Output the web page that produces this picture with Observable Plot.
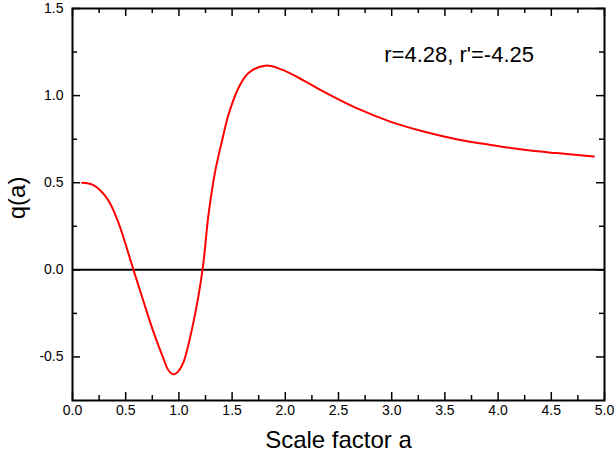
<!DOCTYPE html>
<html>
<head>
<meta charset="utf-8">
<script src="https://cdn.jsdelivr.net/npm/d3@7"></script>
<script src="https://cdn.jsdelivr.net/npm/@observablehq/plot@0.6"></script>
<style>
  body { margin: 0; background: #ffffff; }
  #chart svg { display: block; }
</style>
</head>
<body>
<div id="chart"></div>
<script>
// ---- data ----
const aValues = [0.09, 0.15, 0.20, 0.25, 0.30, 0.35, 0.40, 0.45, 0.50, 0.573, 0.667, 0.76, 0.855, 0.90, 0.95, 0.998, 1.043, 1.137, 1.222, 1.278, 1.341, 1.404, 1.466, 1.56, 1.654, 1.811, 1.968, 2.187, 2.36, 2.67, 2.986, 3.30, 3.61, 3.93, 4.24, 4.55, 4.90];
const qValues = [0.500, 0.496, 0.485, 0.463, 0.430, 0.385, 0.320, 0.240, 0.145, 0.0, -0.18, -0.355, -0.51, -0.575, -0.60, -0.58, -0.53, -0.30, 0.0, 0.316, 0.565, 0.737, 0.89, 1.044, 1.13, 1.172, 1.149, 1.082, 1.023, 0.928, 0.851, 0.794, 0.75, 0.717, 0.689, 0.67, 0.651];

const xTicks = [0, 0.5, 1.0, 1.5, 2.0, 2.5, 3.0, 3.5, 4.0, 4.5, 5.0];
const xTickLabels = ["0.0", "0.5", "1.0", "1.5", "2.0", "2.5", "3.0", "3.5", "4.0", "4.5", "5.0"];
const xMinorTicks = [0.25, 0.75, 1.25, 1.75, 2.25, 2.75, 3.25, 3.75, 4.25, 4.75];
const yTicks = [-0.5, 0.0, 0.5, 1.0, 1.5];
const yTickLabels = ["-0.5", "0.0", "0.5", "1.0", "1.5"];
const yMinorTicks = [-0.25, 0.25, 0.75, 1.25];

const xTitle = "Scale factor a";
const yTitle = "q(a)";
const yTitleQ = 0.29;          // vertical centre of the y title, in q units
const annotation = "r=4.28, r'=-4.25";
const annotationA = 2.93;
const annotationQ = 1.236;

const data = aValues.map((a, i) => ({a, q: qValues[i]}));

// ---- layout ----
const W = 615, H = 465;
const mL = 72, mR = 11, mT = 8, mB = 65;
const pw = W - mL - mR, ph = H - mT - mB;
const majorLen = 8, minorLen = 5;

const chart = Plot.plot({
  width: W,
  height: H,
  marginLeft: mL,
  marginRight: mR,
  marginTop: mT,
  marginBottom: mB,
  style: {fontFamily: "'Liberation Sans', Arial, Helvetica, sans-serif", fontSize: "14px", background: "#ffffff", color: "#000000"},
  x: {domain: [0, 5]},
  y: {domain: [-0.75, 1.5]},
  marks: [
    Plot.axisX({ticks: xTicks, tickSize: 0, tickPadding: 5, fontSize: 14, label: null,
      tickFormat: d => xTickLabels[xTicks.indexOf(d)]}),
    Plot.axisY({ticks: yTicks, tickSize: 0, tickPadding: 9, fontSize: 14, label: null,
      tickFormat: d => yTickLabels[yTicks.indexOf(d)]}),
    // inward ticks: bottom and top
    Plot.tickX(xTicks, {x: d => d, insetTop: ph - majorLen, stroke: "#000", strokeWidth: 1.5}),
    Plot.tickX(xMinorTicks, {x: d => d, insetTop: ph - minorLen, stroke: "#000", strokeWidth: 1.5}),
    Plot.tickX(xTicks, {x: d => d, insetBottom: ph - majorLen, stroke: "#000", strokeWidth: 1.5}),
    Plot.tickX(xMinorTicks, {x: d => d, insetBottom: ph - minorLen, stroke: "#000", strokeWidth: 1.5}),
    // inward ticks: left and right
    Plot.tickY(yTicks, {y: d => d, insetRight: pw - majorLen, stroke: "#000", strokeWidth: 1.5}),
    Plot.tickY(yMinorTicks, {y: d => d, insetRight: pw - minorLen, stroke: "#000", strokeWidth: 1.5}),
    Plot.tickY(yTicks, {y: d => d, insetLeft: pw - majorLen, stroke: "#000", strokeWidth: 1.5}),
    Plot.tickY(yMinorTicks, {y: d => d, insetLeft: pw - minorLen, stroke: "#000", strokeWidth: 1.5}),
    Plot.ruleY([0], {stroke: "#000", strokeWidth: 2}),
    Plot.line(data, {x: "a", y: "q", stroke: "#ff0000", strokeWidth: 2, curve: "catmull-rom"}),
    Plot.frame({stroke: "#000", strokeWidth: 2}),
    Plot.text([annotation], {x: () => annotationA, y: () => annotationQ, text: d => d, textAnchor: "start", fontSize: 22, fill: "#000"}),
    Plot.text([xTitle], {frameAnchor: "bottom", dy: 47, text: d => d, fontSize: 24, fill: "#000"}),
    Plot.text([yTitle], {frameAnchor: "left", y: () => yTitleQ, dx: -55, rotate: -90, text: d => d, fontSize: 24, fill: "#000"})
  ]
});
document.getElementById("chart").appendChild(chart);
</script>
</body>
</html>
